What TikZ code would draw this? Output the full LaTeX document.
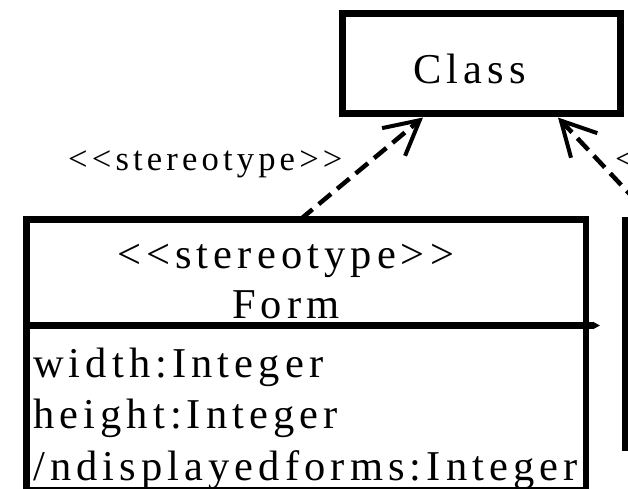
\documentclass[tikz,border=0pt]{standalone}
\usepackage{fontspec}
\setmainfont{Liberation Serif}[LetterSpace=12,Ligatures=TeXOff]
\usetikzlibrary{arrows.meta,positioning}

\begin{document}
\begin{tikzpicture}[x=1pt,y=-1pt]
  \tikzset{>={Straight Barb[length=34pt,width=36pt,line width=4pt]},
    umlbox/.style={draw,line width=6.5pt,inner sep=0pt,outer sep=0pt},
    realize/.style={->,line width=4.5pt,dash pattern=on 16pt off 8pt},
    big/.style={font=\fontsize{42.5}{51.5}\selectfont,inner sep=0pt},
    small/.style={font=\fontsize{34.6}{41}\selectfont,inner sep=0pt}}
  \useasboundingbox (0,0) rectangle (628,488);
  \clip (0,0) rectangle (628,488);
  % boxes
  \node[umlbox,minimum width=278pt,minimum height=100pt] (class) at (481.5,63.5) {};
  \node[big,anchor=base west] (classname) at (413,83) {Class};
  \node[umlbox,minimum width=559.5pt,minimum height=106pt] (formhead) at (306.25,272.5) {};
  \node[umlbox,minimum width=559.5pt,minimum height=165pt,below=0pt of formhead] (formbody) {};
  \node[umlbox,minimum width=300pt,minimum height=228pt,anchor=north west] (nextclass) at (625,220) {};
  \draw[line width=6.5pt,-{Triangle[length=7pt,width=7pt]}] (formhead.south east) -- ++(14,0);
  % texts in Form
  \node[big,anchor=base west] (formstereo) at (117,268) {<<stereotype>>};
  \node[big,anchor=base west] (formname) at (232,318) {Form};
  \node[big,anchor=base west] (attrwidth) at (33,377) {width:Integer};
  \node[big,anchor=base west] (attrheight) at (33,428) {height:Integer};
  \node[big,anchor=base west] (attrcount) at (33,480) {/ndisplayedforms:Integer};
  % realizations
  \draw[realize] ([xshift=-6pt]formhead.north) -- ([xshift=-58.5pt,yshift=-4pt]class.south);
  \draw[realize] ([xshift=29pt]nextclass.north west) -- ([xshift=76.5pt,yshift=-4pt]class.south);
  \node[small,anchor=base west] (stereoleft) at (68,170) {<<stereotype>>};
  \node[small,anchor=base west] (stereoright) at (615,170) {<<stereotype>>};
\end{tikzpicture}
\end{document}
